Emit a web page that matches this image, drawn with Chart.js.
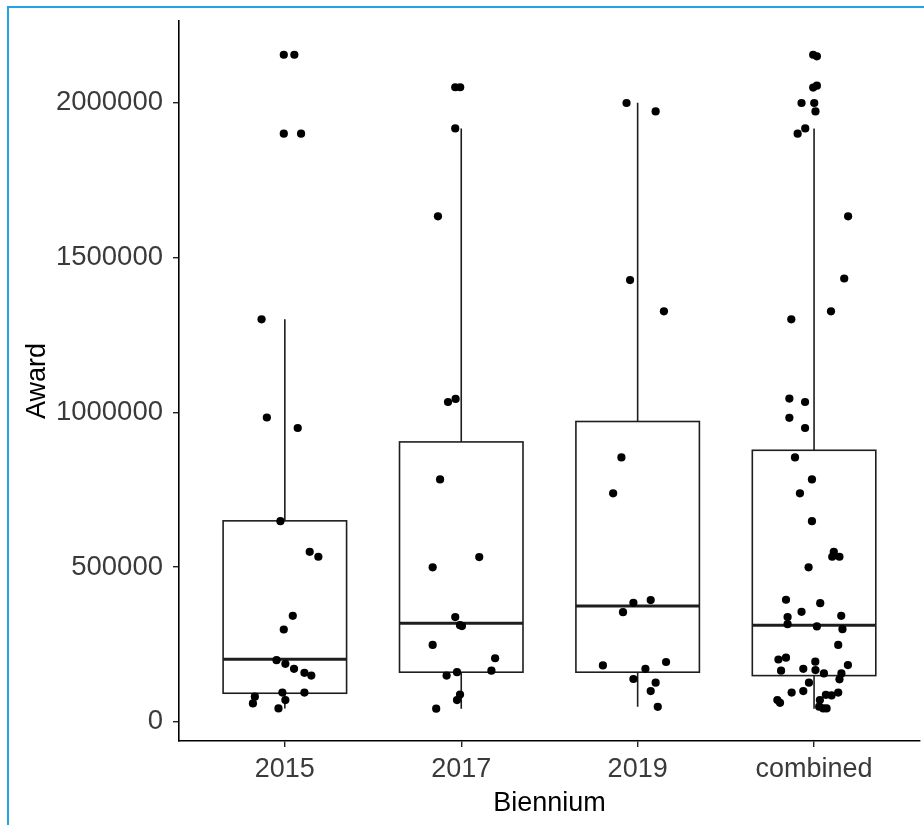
<!DOCTYPE html>
<html>
<head>
<meta charset="utf-8">
<script src="https://cdn.jsdelivr.net/npm/chart.js@4/dist/chart.umd.min.js"></script>
<style>
  body { margin: 0; background: #fff; }
  #wrap { position: relative; width: 924px; height: 825px; overflow: hidden; }
  #frame { position: absolute; left: 7px; top: 6px; width: 1000px; height: 900px;
           border-left: 2px solid #1fa6e2; border-top: 2px solid #1fa6e2; pointer-events: none; }
</style>
</head>
<body>
<div id="wrap">
  <canvas id="box" width="924" height="825"></canvas>
  <div id="frame"></div>
</div>
<script>
// groups on the x axis
var categories = ['2015', '2017', '2019', 'combined'];

// box statistics
var q1 = [92000, 160000, 160000, 149000];
var median = [202000, 318000, 374000, 312000];
var q3 = [649000, 904000, 970000, 877000];
var whiskerLo = [43000, 42000, 48000, 42000];
var whiskerHi = [1300000, 1917000, 2000000, 1917000];

// award values (jittered points) and their horizontal jitter in category units
var award2015 = [2155000, 2155000, 1900000, 1900000, 1300000, 983000, 949000, 648000, 549000, 533000,
                 342000, 298000, 199000, 187000, 171000, 158000, 149000, 94000, 94000, 81000, 70000, 59000, 43000];
var jitter2015 = [-0.006, 0.054, -0.006, 0.092, -0.132, -0.102, 0.073, -0.025, 0.141, 0.19,
                  0.045, -0.006, -0.047, 0.003, 0.052, 0.111, 0.15, -0.014, 0.111, -0.17, 0.003, -0.181, -0.036];

var award2017 = [2050000, 2050000, 1917000, 1633000, 1043000, 1033000, 783000, 532000, 499000, 338000,
                 312000, 309000, 248000, 205000, 165000, 160000, 149000, 88000, 70000, 42000];
var jitter2017 = [-0.034, -0.006, -0.034, -0.132, -0.032, -0.075, -0.12, 0.102, -0.162, -0.034,
                  -0.007, 0.004, -0.162, 0.192, 0.171, -0.024, -0.083, -0.007, -0.024, -0.142];

var award2019 = [1999000, 1972000, 1427000, 1326000, 854000, 738000, 393000, 384000, 354000, 193000,
                 182000, 171000, 138000, 126000, 99000, 48000];
var jitter2019 = [-0.063, 0.102, -0.043, 0.149, -0.092, -0.139, 0.074, -0.024, -0.083, 0.161,
                  -0.197, 0.044, -0.024, 0.102, 0.074, 0.114];

var awardAll = [2155000, 2150000, 2049000, 2055000, 1999000, 1999000, 1972000, 1917000, 1900000, 1633000,
                1432000, 1326000, 1300000, 1044000, 1033000, 982000, 949000, 854000, 783000, 738000,
                648000, 549000, 533000, 533000, 499000, 394000, 383000, 355000, 338000, 342000,
                315000, 308000, 299000, 248000, 207000, 201000, 194000, 183000, 171000, 167000,
                165000, 156000, 156000, 137000, 126000, 99000, 94000, 94000, 87000, 85000,
                70000, 70000, 61000, 48500, 43000, 43000];
var jitterAll = [-0.005, 0.016, -0.005, 0.016, -0.071, 0.001, 0.008, -0.05, -0.093, 0.193,
                 0.171, 0.096, -0.129, -0.14, -0.051, -0.14, -0.051, -0.108, -0.012, -0.08,
                 -0.012, 0.112, 0.103, 0.144, -0.031, -0.159, 0.035, -0.071, -0.15, 0.154,
                 -0.15, 0.016, 0.161, 0.137, -0.159, -0.202, 0.007, 0.192, -0.061, 0.008,
                 -0.187, 0.056, 0.155, 0.144, -0.029, -0.061, -0.127, 0.137, 0.067, 0.099,
                 -0.208, 0.033, -0.193, 0.029, 0.052, 0.071];

var yTicks = [0, 500000, 1000000, 1500000, 2000000];

var groups = [[award2015, jitter2015], [award2017, jitter2017], [award2019, jitter2019], [awardAll, jitterAll]];

function points(g) {
    var vals = groups[g][0], jit = groups[g][1];
    return vals.map(function (v, i) { return { x: g + 1 + jit[i], y: v }; });
}

var boxHalf = 0.35;
var font = 'Liberation Sans, Arial, sans-serif';

var boxPlugin = {
    id: 'boxes',
    beforeDatasetsDraw: function (chart) {
        var ctx = chart.ctx, x = chart.scales.x, y = chart.scales.y;
        ctx.save();
        ctx.strokeStyle = '#1e1e1e';
        categories.forEach(function (c, i) {
            var xc = x.getPixelForValue(i + 1);
            var xl = x.getPixelForValue(i + 1 - boxHalf);
            var xr = x.getPixelForValue(i + 1 + boxHalf);
            var y1 = y.getPixelForValue(q1[i]);
            var y3 = y.getPixelForValue(q3[i]);
            var ym = y.getPixelForValue(median[i]);
            ctx.lineWidth = 1.6;
            ctx.beginPath();
            ctx.moveTo(xc, y.getPixelForValue(whiskerHi[i]));
            ctx.lineTo(xc, y3);
            ctx.moveTo(xc, y1);
            ctx.lineTo(xc, y.getPixelForValue(whiskerLo[i]));
            ctx.stroke();
            ctx.strokeRect(xl, y3, xr - xl, y1 - y3);
            ctx.lineWidth = 3;
            ctx.beginPath();
            ctx.moveTo(xl, ym);
            ctx.lineTo(xr, ym);
            ctx.stroke();
        });
        ctx.restore();
    }
};

var ctx = document.getElementById('box').getContext('2d');
var myChart = new Chart(ctx, {
    type: 'scatter',
    data: {
        datasets: categories.map(function (c, g) {
            return {
                label: c,
                data: points(g),
                backgroundColor: '#000',
                borderWidth: 0,
                pointRadius: 4.1
            };
        })
    },
    plugins: [boxPlugin],
    options: {
        responsive: false,
        animation: false,
        layout: { padding: { top: 21, right: 2, left: 0, bottom: 0 } },
        plugins: { legend: { display: false }, tooltip: { enabled: false } },
        scales: {
            x: {
                type: 'linear',
                min: 0.4,
                max: 4.6,
                afterBuildTicks: function (s) { s.ticks = categories.map(function (c, i) { return { value: i + 1 }; }); },
                afterFit: function (s) { s.height = 84; s.paddingLeft = 0; s.paddingRight = 0; },
                grid: { drawOnChartArea: false, drawTicks: true, tickLength: 6, color: '#222', lineWidth: 1.4 },
                border: { display: true, color: '#000', width: 1.6 },
                ticks: {
                    padding: 6,
                    color: '#3a3a3a',
                    font: { family: font, size: 27 },
                    callback: function (v) { return categories[v - 1]; }
                },
                title: {
                    display: true,
                    text: 'Biennium',
                    color: '#000',
                    padding: { top: 0, bottom: 5 },
                    font: { family: font, size: 27 }
                }
            },
            y: {
                min: -62300,
                max: 2264000,
                afterBuildTicks: function (s) { s.ticks = yTicks.map(function (v) { return { value: v }; }); },
                afterFit: function (s) { s.width = 179; s.paddingTop = 0; s.paddingBottom = 0; },
                grid: { drawOnChartArea: false, drawTicks: true, tickLength: 6, color: '#222', lineWidth: 1.4 },
                border: { display: true, color: '#000', width: 1.6 },
                ticks: {
                    padding: 10,
                    color: '#3a3a3a',
                    font: { family: font, size: 27.5 },
                    callback: function (v) { return String(v); }
                },
                title: {
                    display: true,
                    text: 'Award',
                    color: '#000',
                    padding: { top: 21, bottom: 0 },
                    font: { family: font, size: 27 }
                }
            }
        }
    }
});
</script>
</body>
</html>
